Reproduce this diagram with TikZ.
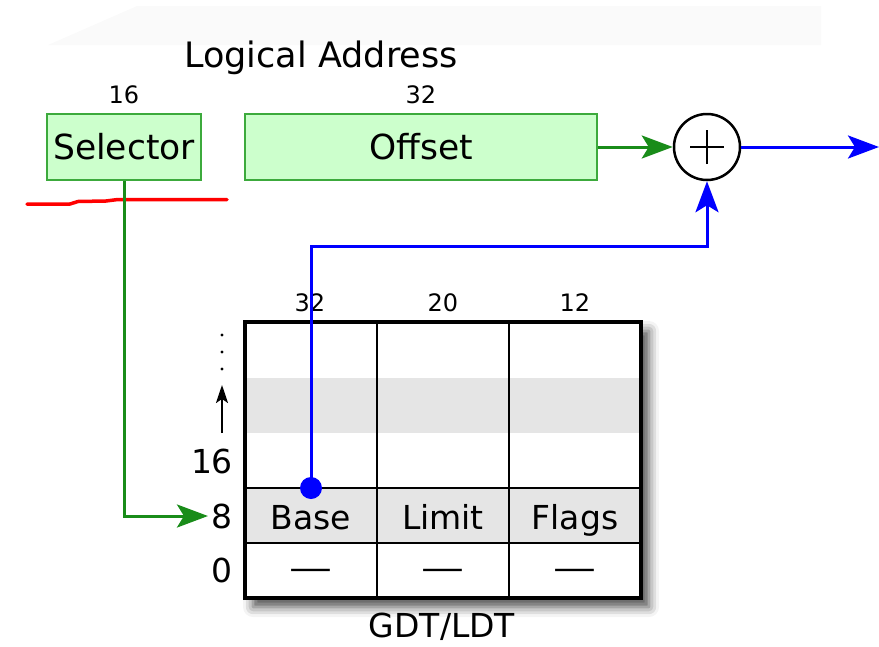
\documentclass[tikz,border=0pt]{standalone}
\usepackage{fontspec}
\setmainfont{DejaVu Sans}
\usetikzlibrary{arrows.meta,positioning,shadows.blur}
\definecolor{fieldfill}{RGB}{204,255,204}
\definecolor{fieldedge}{RGB}{60,170,60}
\definecolor{selgreen}{RGB}{25,140,25}
\definecolor{rowgray}{RGB}{229,229,229}

\begin{document}
\begin{tikzpicture}[
  x=1pt, y=-1pt,
  font=\fontsize{33}{38}\selectfont,
  field/.style={rectangle, draw=fieldedge, fill=fieldfill, line width=2.5pt, minimum height=66pt, inner sep=0pt, font=\fontsize{34.5}{40}\selectfont},
  bits/.style={font=\fontsize{24}{28}\selectfont, inner sep=1pt},
  cell/.style={rectangle, minimum width=132pt, minimum height=55pt, inner sep=0pt, text height=30pt, text depth=3pt},
  garr/.style={-{Stealth[length=31pt, width=23pt, inset=7pt]}, line width=3pt, selgreen},
  barr/.style={-{Stealth[length=31pt, width=23pt, inset=7pt]}, line width=3pt, blue}
]
\useasboundingbox (0,0) rectangle (879,646);
\fill[black!2] (48,45) -- (137,6) -- (821,6) -- (821,45) -- cycle;

% logical address
\node[font=\fontsize{35}{40}\selectfont] (title) at (321,58) {Logical Address};
\node[field, minimum width=154pt] (sel) at (124,147) {Selector};
\node[field, minimum width=352pt] (off) at (421,147) {Offset};
\node[bits] (selbits) at (124,95) {16};
\node[bits] (offbits) at (421,95) {32};
\draw[red, line width=3.5pt, line cap=round, line join=round]
  (27,204) -- (70,204) -- (78,201.5) -- (106,201) -- (118,199.5) -- (227,199.5);

% adder
\node[circle, draw, line width=2.5pt, minimum size=66pt, inner sep=0pt] (sum) at (707,147) {};
\draw[line width=2pt] ([xshift=-17pt]sum.center) -- ([xshift=17pt]sum.center);
\draw[line width=2pt] ([yshift=-17pt]sum.center) -- ([yshift=17pt]sum.center);
\coordinate (out) at (879,147);
\draw[garr] (off) -- (sum);
\draw[barr] (sum) -- (out);

% descriptor table
\node[rectangle, fill=white, minimum width=396pt, minimum height=276pt, inner sep=0pt,
  blur shadow={shadow xshift=8pt, shadow yshift=-9pt, shadow blur radius=10pt, shadow opacity=70}] (gdt) at (443,460) {};
\fill[rowgray] (245,378) rectangle (641,433);
\node[cell, fill=rowgray] (base) at (311,515.5) {Base};
\node[cell, fill=rowgray] (limit) at (443,515.5) {Limit};
\node[cell, fill=rowgray] (flags) at (575,515.5) {Flags};
\node[cell] (dbase) at (311,566) {\scalebox{1.3}[1]{---}};
\node[cell] (dlimit) at (443,566) {\scalebox{1.3}[1]{---}};
\node[cell] (dflags) at (575,566) {\scalebox{1.3}[1]{---}};
\draw[line width=2.5pt] (245,488) -- (641,488) (245,543) -- (641,543)
  (377,322) -- (377,598) (509,322) -- (509,598);
\draw[line width=3.5pt] (gdt.north west) rectangle (gdt.south east);
\node[bits] (bbits) at (310,303) {32};
\node[bits] (lbits) at (443,303) {20};
\node[bits] (fbits) at (575,303) {12};
\node[anchor=base, inner sep=0pt] (gdtname) at (442,637) {GDT/LDT};

% row index
\node (row16) at (212,461) {16};
\node (row8) at (222,516) {8};
\node (row0) at (222,570) {0};
\foreach \y in {335,352,369}
  \fill (222,\y) circle (1.6pt);
\draw[-{Stealth[length=18pt, width=12pt, inset=4pt]}, line width=2pt] (222,433) -- (222,385);

% connectors
\draw[garr] (sel.south) |- (row8.west);
\node[circle, fill=blue, minimum size=22pt, inner sep=0pt] (bdot) at (311,488) {};
\coordinate (turn) at (311,246);
\draw[barr] (bdot.center) -- (turn) -| (sum.south);
\end{tikzpicture}
\end{document}
